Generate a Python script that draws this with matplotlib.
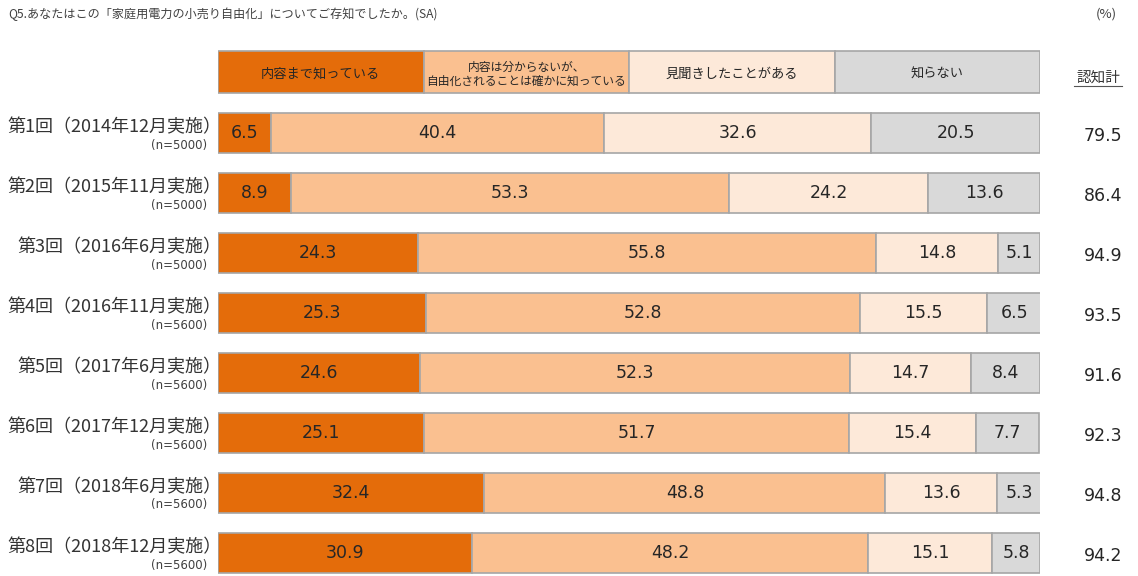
import matplotlib
matplotlib.use('Agg')
import matplotlib.pyplot as plt
import numpy as np

plt.rcParams['font.family'] = ['Noto Sans CJK JP', 'DejaVu Sans']

# data
rounds = ['第1回（2014年12月実施）', '第2回（2015年11月実施）', '第3回（2016年6月実施）',
          '第4回（2016年11月実施）', '第5回（2017年6月実施）', '第6回（2017年12月実施）',
          '第7回（2018年6月実施）', '第8回（2018年12月実施）']
samples = ['(n=5000)', '(n=5000)', '(n=5000)', '(n=5600)',
           '(n=5600)', '(n=5600)', '(n=5600)', '(n=5600)']
categories = ['内容まで知っている', '内容は分からないが、\n自由化されることは確かに知っている',
              '見聞きしたことがある', '知らない']
know = [6.5, 8.9, 24.3, 25.3, 24.6, 25.1, 32.4, 30.9]
partly = [40.4, 53.3, 55.8, 52.8, 52.3, 51.7, 48.8, 48.2]
heard = [32.6, 24.2, 14.8, 15.5, 14.7, 15.4, 13.6, 15.1]
unknown = [20.5, 13.6, 5.1, 6.5, 8.4, 7.7, 5.3, 5.8]
total = [79.5, 86.4, 94.9, 93.5, 91.6, 92.3, 94.8, 94.2]

colors = ['#E46C0A', '#FAC090', '#FDE9D9', '#D9D9D9']
edge = '#A6A6A6'
txt = '#262626'

W, H = 1138, 576
fig = plt.figure(figsize=(W / 100, H / 100), dpi=100)
# x: 0..100 percent mapped onto pixels 218..1040; y: rows, centre of row 0 at px 133, pitch 60
x0, x1 = 218, 1040
ax = fig.add_axes([x0 / W, 0, (x1 - x0) / W, 1])
ax.set_xlim(0, 100)
ax.set_ylim((H - 133) / 60, -133 / 60)
ax.axis('off')

series = [know, partly, heard, unknown]
ypos = np.arange(len(rounds))
left = np.zeros(len(rounds))
for vals, c in zip(series, colors):
    vals = np.array(vals)
    ax.barh(ypos, vals, left=left, height=0.67, color=c, edgecolor=edge, linewidth=1.2)
    for y, l, v in zip(ypos, left, vals):
        ax.text(l + v / 2, y, f'{v:.1f}', ha='center', va='center', fontsize=12.5,
                color=txt, fontfamily='DejaVu Sans')
    left += vals

# legend row
leg_y = -1.02
for i, (cat, c) in enumerate(zip(categories, colors)):
    ax.barh(leg_y, 25, left=25 * i, height=0.7, color=c, edgecolor=edge, linewidth=1.2)
    ax.text(25 * i + 12.5, leg_y + 0.04, cat, ha='center', va='center',
            fontsize=8.5 if '\n' in cat else 9.5, color=txt, linespacing=1.1)

# row labels
for y, r, n in zip(ypos, rounds, samples):
    ax.text(0.4, y - 0.1, r, ha='right', va='center', fontsize=13, color='#333333',
            clip_on=False)
    ax.text(-1.3, y + 0.2, n, ha='right', va='center', fontsize=8.5, color='#404040',
            fontfamily='DejaVu Sans', clip_on=False)

# total column
xt = (1103 - x0) / (x1 - x0) * 100
for y, t in zip(ypos, total):
    ax.text(xt, y + 0.05, f'{t:.1f}', ha='center', va='center', fontsize=12.5,
            color=txt, fontfamily='DejaVu Sans', clip_on=False)
xh = (1098 - x0) / (x1 - x0) * 100
ax.text(xh, -0.92, '認知計', ha='center', va='center', fontsize=10.5, color='#333333',
        clip_on=False)
ax.plot([xh - 2.9, xh + 2.9], [-0.79, -0.79], color='#555555', lw=0.8, clip_on=False)

fig.text(8 / W, 1 - 14 / H, 'Q5.あなたはこの「家庭用電力の小売り自由化」についてご存知でしたか。(SA)',
         ha='left', va='center', fontsize=8.7, color='#404040')
fig.text(1106 / W, 1 - 14 / H, '(%)', ha='center', va='center', fontsize=9.5, color='#404040')

fig.savefig('out.png', dpi=100)
